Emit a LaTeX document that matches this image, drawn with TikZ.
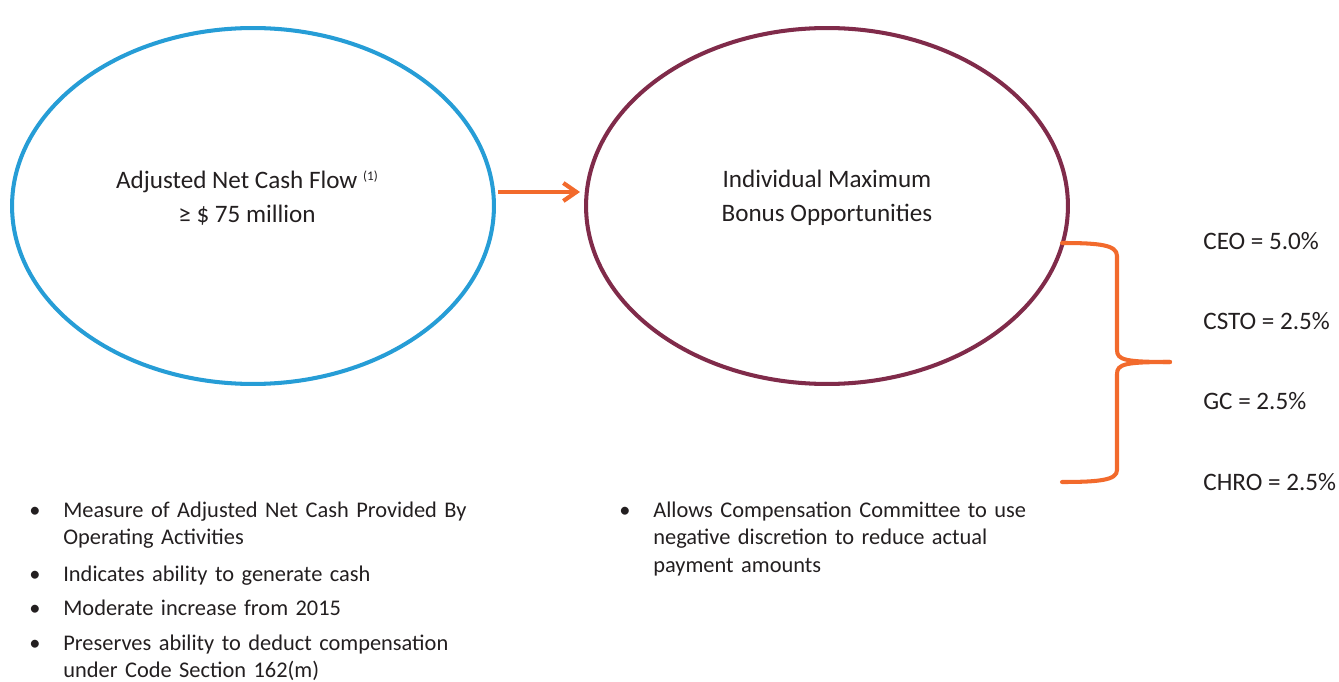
\documentclass[tikz,border=0pt]{standalone}
\usepackage{fontspec}
\setmainfont{Carlito}
\usetikzlibrary{arrows.meta, positioning, shapes.geometric}

\definecolor{flowblue}{HTML}{269DD6}
\definecolor{bonusred}{HTML}{802B4A}
\definecolor{accent}{HTML}{F26A2C}
\definecolor{inktext}{HTML}{231F20}

\begin{document}
\hyphenpenalty=10000
\exhyphenpenalty=10000
\begin{tikzpicture}[x=0.02cm, y=-0.02cm, font=\fontsize{12.5}{19}\selectfont, >=Stealth]

% =========================
% Styles
% =========================
\tikzset{
    oval/.style={draw=#1, ellipse, line width=2.3pt, minimum width=9.64cm, minimum height=7.12cm, inner sep=0pt},
    caption/.style={align=center, text=inktext, font=\fontsize{14.3}{19.3}\selectfont},
    share/.style={anchor=west, text=inktext, font=\fontsize{14.3}{16}\selectfont, inner sep=0pt},
    point/.style={anchor=base west, text width=#1, align=left, inner sep=0pt, text=inktext,
        font=\fontsize{12.75}{15.9}\selectfont},
    flow/.style={-{Straight Barb[length=2.6mm, width=3.6mm]}, line width=2.4pt, color=accent},
    brace/.style={line width=2.3pt, color=accent, line cap=round}
}
\newcommand{\dotitem}{\llap{\textbullet\hspace{13pt}}}

\useasboundingbox (0,0) rectangle (1339,682);

% =========================
% Cash flow goal
% =========================
\node[oval=flowblue] (cash) at (253,206) {};
\node[caption] (cashtxt) at (247,198) {Adjusted Net Cash Flow \raisebox{0.7ex}{\fontsize{7.5}{8}\selectfont(1)}\\ ≥ \$ 75 million};

% =========================
% Bonus pool
% =========================
\node[oval=bonusred] (bonus) at (827,206) {};
\node[caption] (bonustxt) at (827,198) {Individual Maximum\\ Bonus Opportunities};

\draw[flow] ([yshift=0.28cm, xshift=0.04cm]cash.east) -- ([yshift=0.28cm, xshift=-0.08cm]bonus.west);

% =========================
% Brace and shares
% =========================
\coordinate (btop) at (1062,243);
\coordinate (bbot) at (1062,482);
\coordinate (btip) at (1170,362);
\draw[brace] (btop) .. controls (1100,243) and (1117,245) .. (1117,256) -- (1117,350)
    .. controls (1117,360) and (1125,362) .. (btip);
\draw[brace] (bbot) .. controls (1100,482) and (1117,480) .. (1117,470) -- (1117,374)
    .. controls (1117,364) and (1125,362) .. (btip);

\node[share] (ceo) at (1203,241) {CEO = 5.0\%};
\node[share] (csto) at (1203,321) {CSTO = 2.5\%};
\node[share] (gc) at (1203,401) {GC = 2.5\%};
\node[share] (chro) at (1203,482) {CHRO = 2.5\%};

% =========================
% Notes
% =========================
\node[point=8.3cm] (n1) at (63,517) {\dotitem Measure of Adjusted Net Cash Provided By\\ Operating Activities};
\node[point=8.3cm] (n2) at (63,581) {\dotitem Indicates ability to generate cash};
\node[point=8.3cm] (n3) at (63,615) {\dotitem Moderate increase from 2015};
\node[point=8.3cm] (n4) at (63,650) {\dotitem Preserves ability to deduct compensation\\ under Code Section 162(m)};

\node[point=8.0cm] (n5) at (653,517) {\dotitem Allows Compensation Committee to use\\ negative discretion to reduce actual\\ payment amounts};

\end{tikzpicture}
\end{document}
